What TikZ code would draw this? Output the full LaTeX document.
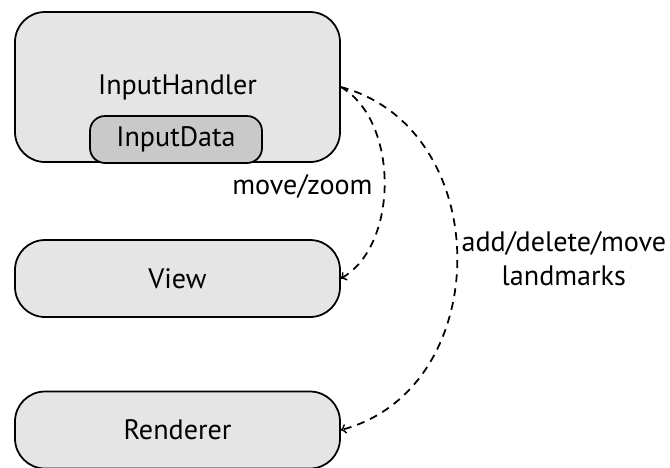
\documentclass[tikz,border=0pt]{standalone}
\usepackage{fontspec}
\setmainfont{PT Sans}
\begin{document}
\begin{tikzpicture}[
  box/.style={draw, line width=1pt, rounded corners=0.6cm, fill=gray!20,
    minimum width=6.5cm, minimum height=1.54cm, font=\fontsize{16}{19.5}\selectfont},
  inner/.style={draw, line width=1pt, rounded corners=0.3cm, fill=gray!42,
    minimum width=3.44cm, minimum height=0.94cm, font=\fontsize{16}{19.5}\selectfont},
  flow/.style={->, line width=1pt, dash pattern=on 4.5pt off 3.5pt},
  lbl/.style={font=\fontsize{16}{19.5}\selectfont, align=center}]
 \useasboundingbox (0,0) rectangle (13.4,-9.34);
 % handler with its data inside
 \node[box, minimum height=3cm] (handler) at (3.55,-1.74) {InputHandler};
 \node[inner] (data) at (3.52,-2.79) {InputData};
 % the two receivers
 \foreach \j/\n [count=\xi] in {View/view, Renderer/renderer}
   {\node[box] (\n) at (3.55,{-5.57-3.03*(\xi-1)}) {\j};}
 \draw[flow] (handler.east) to[out=-30,in=30,looseness=0.9]
   node[lbl,left,xshift=-3pt,yshift=-2pt] {move/zoom} (view.east);
 \draw[flow] (handler.east) to[out=-15,in=15,looseness=1.2]
   node[lbl,right,inner sep=2pt] {add/delete/move\\landmarks} (renderer.east);
\end{tikzpicture}
\end{document}
